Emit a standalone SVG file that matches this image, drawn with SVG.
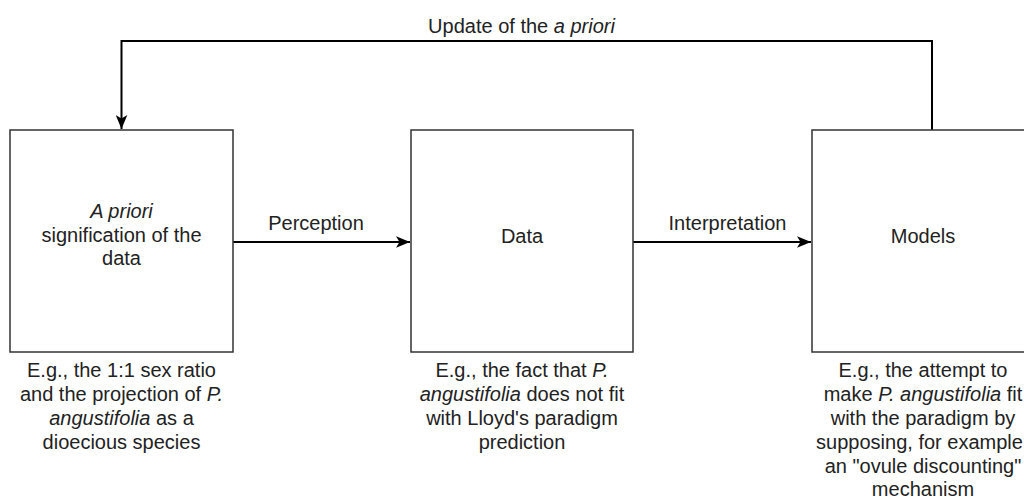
<svg xmlns="http://www.w3.org/2000/svg" width="1024" height="499" viewBox="0 0 1024 499">
<style>
.box{fill:#fff;stroke:#333;stroke-width:1.5}
.t{font-family:"Liberation Sans",Arial,sans-serif;font-size:20px;fill:#222;text-anchor:middle}
.i{font-style:italic}
.c{fill:none;stroke:#000;stroke-width:2}
</style>
<defs>
<marker id="arr" markerUnits="userSpaceOnUse" markerWidth="14" markerHeight="12" viewBox="0 0 12 10" refX="12" refY="5" orient="auto">
<path d="M0,0 L12,5 L0,10 L3,5 Z" fill="#000"/>
</marker>
</defs>
<rect width="1024" height="499" fill="#fff"/>
<g id="connectors">
<path class="c" d="M233,242 H410" marker-end="url(#arr)"/>
<path class="c" d="M633,242 H811" marker-end="url(#arr)"/>
<path class="c" d="M932,130 V41 H121.5 V129" marker-end="url(#arr)"/>
<text class="t" x="316" y="230">Perception</text>
<text class="t" x="727.5" y="230">Interpretation</text>
<text class="t" x="521.5" y="33">Update of the <tspan class="i">a priori</tspan></text>
</g>
<g id="apriori">
<rect class="box" x="10" y="130" width="223" height="222"/>
<text class="t" x="121.5" y="218"><tspan class="i">A priori</tspan></text>
<text class="t" x="121.5" y="241.5">signification of the</text>
<text class="t" x="121.5" y="265">data</text>
</g>
<g id="data">
<rect class="box" x="411" y="130" width="222" height="222"/>
<text class="t" x="522" y="242.5">Data</text>
</g>
<g id="models">
<rect class="box" x="812" y="130" width="222" height="222"/>
<text class="t" x="923" y="242.5">Models</text>
</g>
<g id="note-apriori">
<text class="t" x="121.5" y="377">E.g., the 1:1 sex ratio</text>
<text class="t" x="121.5" y="401">and the projection of <tspan class="i">P.</tspan></text>
<text class="t" x="121.5" y="425"><tspan class="i">angustifolia</tspan> as a</text>
<text class="t" x="121.5" y="449">dioecious species</text>
</g>
<g id="note-data">
<text class="t" x="522" y="377">E.g., the fact that <tspan class="i">P.</tspan></text>
<text class="t" x="522" y="401"><tspan class="i">angustifolia</tspan> does not fit</text>
<text class="t" x="522" y="425">with Lloyd's paradigm</text>
<text class="t" x="522" y="449">prediction</text>
</g>
<g id="note-models">
<text class="t" x="923" y="377">E.g., the attempt to</text>
<text class="t" x="923" y="401">make <tspan class="i">P. angustifolia</tspan> fit</text>
<text class="t" x="923" y="425">with the paradigm by</text>
<text class="t" x="919.5" y="449">supposing, for example</text>
<text class="t" x="923" y="473">an "ovule discounting"</text>
<text class="t" x="923" y="496">mechanism</text>
</g>
</svg>
